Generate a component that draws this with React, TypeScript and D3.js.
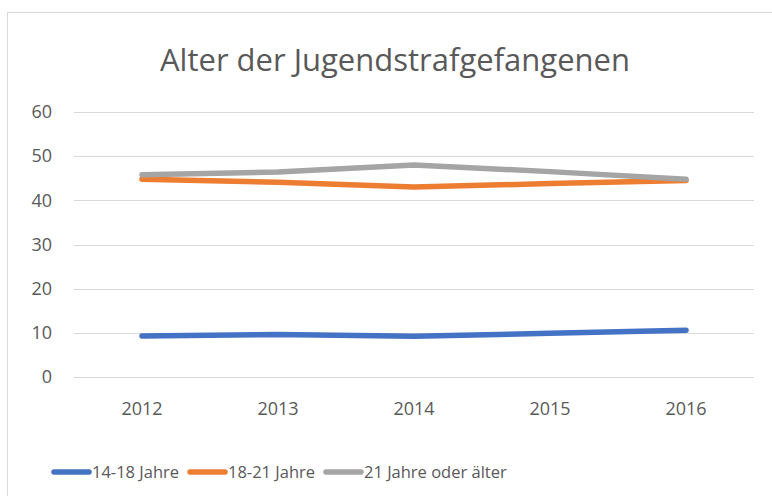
import { useEffect, useRef } from 'react';
import * as d3 from 'd3';

const years = ['2012', '2013', '2014', '2015', '2016'];
const teen = [9.3, 9.6, 9.2, 9.9, 10.6];
const young = [44.8, 44.1, 43.0, 43.8, 44.5];
const older = [45.8, 46.4, 48.0, 46.5, 44.8];
const yTicks = [0, 10, 20, 30, 40, 50, 60];

const seriesList = [
  { name: '14-18 Jahre', values: teen, color: '#4472C4' },
  { name: '18-21 Jahre', values: young, color: '#ED7D31' },
  { name: '21 Jahre oder älter', values: older, color: '#A5A5A5' },
];

const W = 772;
const H = 496;
const FONT = '"Open Sans", Calibri, sans-serif';

export default function App() {
  const svgRef = useRef<SVGSVGElement>(null);

  useEffect(() => {
    if (!svgRef.current) return;
    const svg = d3.select(svgRef.current);
    svg.selectAll('*').remove();

    // chart frame
    svg.append('rect')
      .attr('x', 7.5).attr('y', 12.5)
      .attr('width', 770).attr('height', 500)
      .attr('fill', '#fff')
      .attr('stroke', '#d9d9d9');

    // title
    svg.append('text')
      .attr('x', 395).attr('y', 71)
      .attr('text-anchor', 'middle')
      .attr('fill', '#595959')
      .attr('font-family', FONT)
      .attr('font-size', '31px')
      .text('Alter der Jugendstrafgefangenen');

    const x = d3.scaleBand<string>().domain(years).range([74, 754]);
    const y = d3.scaleLinear().domain([0, 60]).range([377, 112]);

    // grid
    svg.append('g').selectAll('line')
      .data(yTicks)
      .enter()
      .append('line')
      .attr('x1', 74).attr('x2', 754)
      .attr('y1', (d) => Math.round(y(d)) + 0.5)
      .attr('y2', (d) => Math.round(y(d)) + 0.5)
      .attr('stroke', '#d9d9d9')
      .attr('stroke-width', 1);

    // y labels
    svg.append('g').selectAll('text')
      .data(yTicks)
      .enter()
      .append('text')
      .attr('x', 52)
      .attr('y', (d) => y(d))
      .attr('dy', '0.35em')
      .attr('text-anchor', 'end')
      .attr('fill', '#595959')
      .attr('font-family', FONT)
      .attr('font-size', '18px')
      .text((d) => d);

    // x labels
    svg.append('g').selectAll('text')
      .data(years)
      .enter()
      .append('text')
      .attr('x', (d) => (x(d) ?? 0) + x.bandwidth() / 2)
      .attr('y', 409)
      .attr('dy', '0.35em')
      .attr('text-anchor', 'middle')
      .attr('fill', '#595959')
      .attr('font-family', FONT)
      .attr('font-size', '18px')
      .text((d) => d);

    const line = d3.line<number>()
      .x((_, i) => (x(years[i]) ?? 0) + x.bandwidth() / 2)
      .y((d) => y(d));

    seriesList.forEach((s) => {
      svg.append('path')
        .datum(s.values)
        .attr('d', line)
        .attr('fill', 'none')
        .attr('stroke', s.color)
        .attr('stroke-width', 5.5)
        .attr('stroke-linecap', 'round')
        .attr('stroke-linejoin', 'round');
    });

    // legend
    const legendX = [54, 190, 326];
    seriesList.forEach((s, i) => {
      const g = svg.append('g').attr('transform', `translate(${legendX[i]},472)`);
      g.append('line')
        .attr('x1', 0).attr('x2', 35)
        .attr('y1', 0).attr('y2', 0)
        .attr('stroke', s.color)
        .attr('stroke-width', 5.5)
        .attr('stroke-linecap', 'round');
      g.append('text')
        .attr('x', 38).attr('y', 0)
        .attr('dy', '0.35em')
        .attr('fill', '#595959')
        .attr('font-family', FONT)
        .attr('font-size', '16.5px')
        .text(s.name);
    });
  }, []);

  return (
    <svg
      ref={svgRef}
      width={W}
      height={H}
      style={{ position: 'absolute', left: 0, top: 0, display: 'block' }}
    />
  );
}
